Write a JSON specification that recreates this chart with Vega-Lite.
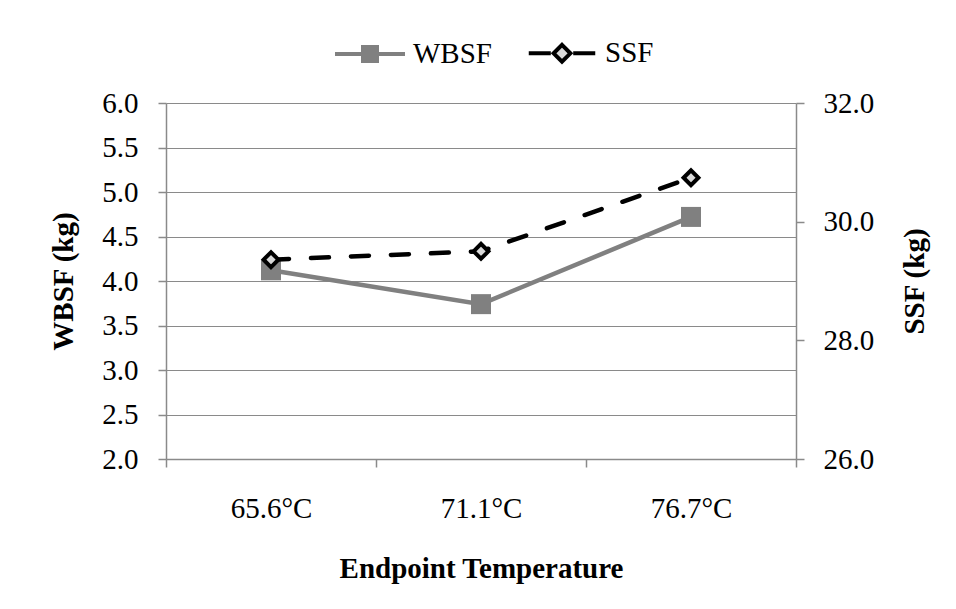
{
  "$schema": "https://vega.github.io/schema/vega-lite/v6.json",
  "width": 630,
  "height": 356,
  "autosize": {"type": "none"},
  "padding": {"left": 166, "top": 103, "right": 160, "bottom": 150},
  "background": "white",
  "config": {
    "font": "Liberation Serif",
    "view": {"stroke": null},
    "axis": {
      "labelFont": "Liberation Serif",
      "labelFontSize": 29,
      "labelColor": "#000000",
      "titleFont": "Liberation Serif",
      "titleFontSize": 29,
      "titleFontWeight": "bold",
      "titleColor": "#000000",
      "domainColor": "#8a8a8a",
      "domainWidth": 1.5,
      "tickColor": "#8a8a8a",
      "tickWidth": 1.5,
      "tickSize": 8,
      "gridColor": "#8a8a8a",
      "gridWidth": 1.2
    },
    "legend": {
      "labelFont": "Liberation Serif",
      "labelFontSize": 29,
      "labelColor": "#000000",
      "title": null,
      "orient": "none",
      "direction": "horizontal",
      "legendX": 167,
      "legendY": -87,
      "symbolSize": 4900,
      "symbolStrokeWidth": 4,
      "symbolOpacity": 1,
      "labelOffset": 6,
      "columnPadding": 28
    }
  },
  "data": {
    "values": [
      {"temp": "65.6°C", "WBSF": 4.12, "SSF": 29.36},
      {"temp": "71.1°C", "WBSF": 3.74, "SSF": 29.5},
      {"temp": "76.7°C", "WBSF": 4.72, "SSF": 30.74}
    ]
  },
  "encoding": {
    "x": {
      "field": "temp",
      "type": "nominal",
      "sort": null,
      "scale": {"paddingInner": 0, "paddingOuter": 0},
      "axis": {
        "title": "Endpoint Temperature",
        "labelAngle": 0,
        "tickBand": "extent",
        "labelPadding": 27,
        "titlePadding": 31,
        "grid": false
      }
    }
  },
  "layer": [
    {
      "encoding": {
        "y": {
          "field": "WBSF",
          "type": "quantitative",
          "scale": {"domain": [2, 6], "nice": false, "zero": false},
          "axis": {
            "title": "WBSF (kg)",
            "values": [2, 2.5, 3, 3.5, 4, 4.5, 5, 5.5, 6],
            "format": ".1f",
            "labelPadding": 20,
            "titlePadding": 23,
            "grid": true
          }
        }
      },
      "layer": [
        {
          "mark": {"type": "line", "color": "#808080", "strokeWidth": 4.5}
        },
        {
          "mark": {"type": "point", "shape": "square", "filled": true, "size": 400, "opacity": 1, "color": "#808080"}
        },
        {
          "mark": {"type": "point", "filled": true, "opacity": 0},
          "encoding": {
            "fill": {
              "datum": "WBSF",
              "type": "nominal",
              "scale": {"domain": ["WBSF", "SSF"], "range": ["#808080", "#d9d9d9"]}
            },
            "stroke": {
              "datum": "WBSF",
              "type": "nominal",
              "scale": {"domain": ["WBSF", "SSF"], "range": ["#808080", "#000000"]}
            },
            "shape": {
              "datum": "WBSF",
              "type": "nominal",
              "scale": {"domain": ["WBSF", "SSF"], "range": ["M-1,0L1,0M-0.2,-0.2L0.2,-0.2L0.2,0.2L-0.2,0.2Z", "M-0.95,0L-0.32,0M0.32,0L0.95,0M0,-0.24L0.24,0L0,0.24L-0.24,0Z"]}
            }
          }
        }
      ]
    },
    {
      "encoding": {
        "y": {
          "field": "SSF",
          "type": "quantitative",
          "scale": {"domain": [26, 32], "nice": false, "zero": false},
          "axis": {
            "title": "SSF (kg)",
            "orient": "right",
            "titleAngle": 270,
            "titleBaseline": "top",
            "values": [26, 28, 30, 32],
            "format": ".1f",
            "labelPadding": 19,
            "titlePadding": 27,
            "grid": false
          }
        }
      },
      "layer": [
        {
          "mark": {"type": "line", "color": "#000000", "strokeWidth": 4.5, "strokeDash": [18, 22], "strokeCap": "round"}
        },
        {
          "mark": {"type": "point", "shape": "diamond", "filled": true, "size": 220, "fill": "#d9d9d9", "stroke": "#000000", "strokeWidth": 4, "opacity": 1}
        },
        {
          "mark": {"type": "point", "filled": true, "opacity": 0},
          "encoding": {
            "fill": {"datum": "SSF", "type": "nominal"},
            "stroke": {"datum": "SSF", "type": "nominal"},
            "shape": {"datum": "SSF", "type": "nominal"}
          }
        }
      ]
    }
  ],
  "resolve": {"scale": {"y": "independent"}}
}
